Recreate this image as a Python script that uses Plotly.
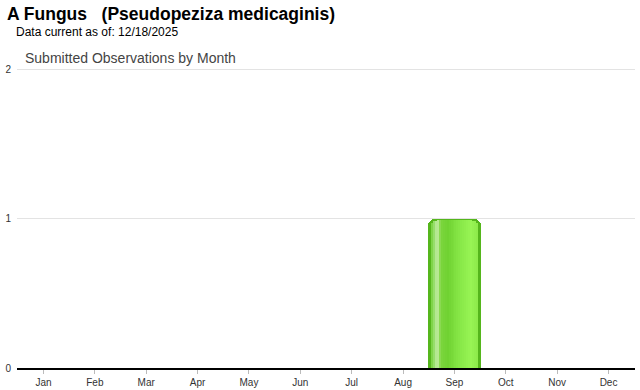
import plotly.graph_objects as go

months = ["Jan", "Feb", "Mar", "Apr", "May", "Jun", "Jul", "Aug", "Sep", "Oct", "Nov", "Dec"]
counts = [0, 0, 0, 0, 0, 0, 0, 0, 1, 0, 0, 0]
y_ticks = [0, 1, 2]

# horizontal shading stops for the glossy bar (position across bar 0..1, colour)
stops = [(0.00, (0x74, 0xd0, 0x38)), (0.07, (0x9a, 0xe0, 0x70)), (0.13, (0xc8, 0xee, 0xaa)),
         (0.20, (0x7c, 0xd6, 0x3e)), (0.35, (0x70, 0xd2, 0x32)), (0.60, (0x86, 0xe6, 0x46)),
         (0.85, (0x98, 0xf4, 0x54)), (1.00, (0x8c, 0xea, 0x4a))]


def shade(t):
    for (t0, c0), (t1, c1) in zip(stops, stops[1:]):
        if t0 <= t <= t1:
            f = (t - t0) / (t1 - t0) if t1 > t0 else 0
            return "rgb(%d,%d,%d)" % tuple(round(a + (b - a) * f) for a, b in zip(c0, c1))
    return "rgb(%d,%d,%d)" % stops[-1][1]


fig = go.Figure()
base_w = 1.03
fig.add_trace(go.Bar(x=months, y=counts, width=base_w, marker=dict(color="#55b61c", cornerradius=7,
                     line=dict(width=0)), hoverinfo="skip", showlegend=False))

n = 24
inner_lo, inner_hi = -0.45, 0.45
sw = (inner_hi - inner_lo) / n
# fraction of the bar height covered by each shading slice (rounds the inner top corners)
edge_scale = {0: 0.972, 1: 0.981, 2: 0.986, n - 1: 0.972, n - 2: 0.981, n - 3: 0.986}
for i in range(n):
    t = (i + 0.5) / n
    k = edge_scale.get(i, 0.989)
    fig.add_trace(go.Bar(x=months, y=[c * k for c in counts], width=sw * 1.05, offset=inner_lo + i * sw,
                         marker=dict(color=shade(t), line=dict(width=0)),
                         hoverinfo="skip", showlegend=False))

font = "Arial, Liberation Sans, sans-serif"
fig.update_layout(
    width=640, height=390,
    margin=dict(l=17, r=5, t=68, b=22),
    barmode="overlay",
    bargap=0,
    plot_bgcolor="white", paper_bgcolor="white",
    font=dict(family=font, size=11, color="#333"),
    xaxis=dict(type="category", showline=True, linecolor="#000", linewidth=1.5,
               ticks="outside", ticklen=4, tickcolor="#bbb", showgrid=False, automargin=False,
               tickfont=dict(size=10, color="#333"), fixedrange=True),
    yaxis=dict(range=[0, 2.007], tickvals=y_ticks, showgrid=True, gridcolor="#e3e3e3",
               zeroline=False, tickfont=dict(size=10, color="#333"), ticklabelstandoff=5,
               automargin=False, fixedrange=True),
    annotations=[
        dict(text="<b>A Fungus   (Pseudopeziza medicaginis)</b>", xref="paper", yref="paper",
             x=-17/618, y=1, yshift=54, xshift=5, xanchor="left", yanchor="middle", showarrow=False,
             font=dict(family=font, size=17.5, color="#000")),
        dict(text="Data current as of: 12/18/2025", xref="paper", yref="paper",
             x=-17/618, y=1, yshift=36, xshift=14, xanchor="left", yanchor="middle", showarrow=False,
             font=dict(family=font, size=12, color="#000")),
        dict(text="Submitted Observations by Month", xref="paper", yref="paper",
             x=-17/618, y=1, yshift=10, xshift=23, xanchor="left", yanchor="middle", showarrow=False,
             font=dict(family=font, size=14, color="#444")),
    ],
)

fig.write_html("out.html")
